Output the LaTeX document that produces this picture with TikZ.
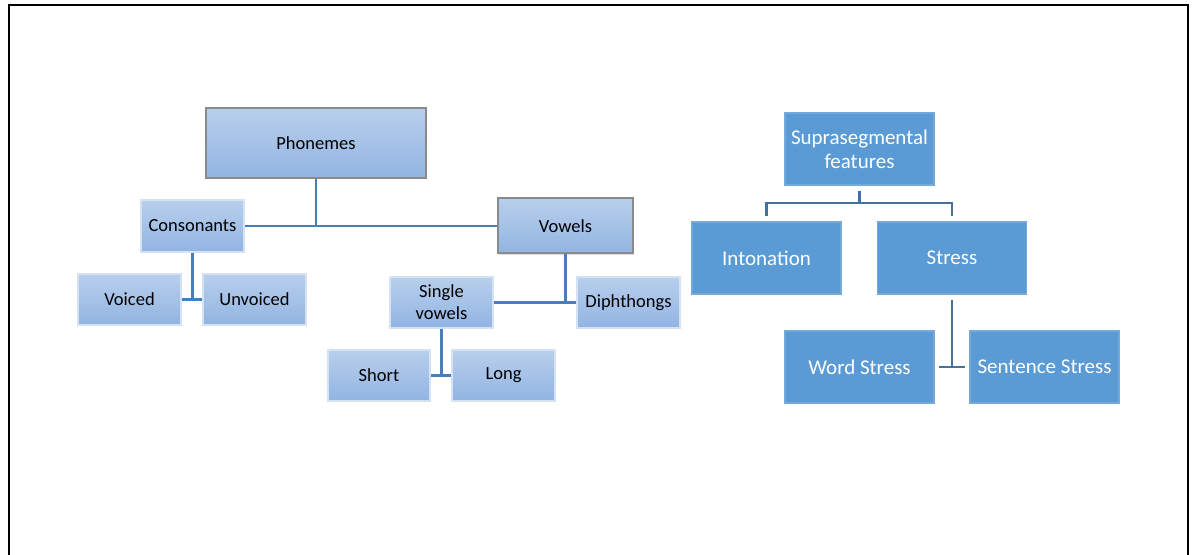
\documentclass[tikz,border=0pt]{standalone}
\usepackage{fontspec}
\setmainfont{Carlito}
\usetikzlibrary{shadows}

\definecolor{boxtop}{RGB}{184,207,236}
\definecolor{boxbot}{RGB}{146,180,226}
\definecolor{boxline}{RGB}{138,138,138}
\definecolor{linkblue}{RGB}{74,126,187}
\definecolor{supblue}{RGB}{91,155,213}
\definecolor{suplink}{RGB}{65,113,156}

\tikzset{
  phonbox/.style={rectangle, inner sep=0pt, top color=boxtop, bottom color=boxbot,
    draw=boxtop!60!white, line width=0.6pt, align=center, font=\fontsize{9.25}{11}\selectfont,
    drop shadow={shadow xshift=0.6pt, shadow yshift=-0.6pt, opacity=0.25}},
  headbox/.style={phonbox, draw=boxline, line width=1pt},
  supbox/.style={rectangle, inner sep=0pt, fill=supblue, draw=supblue!85!white, line width=0.6pt,
    text=white, align=center, minimum width=74.5pt, minimum height=36pt,
    font=\fontsize{10.5}{12}\selectfont},
  link/.style={draw=linkblue, line width=1.2pt},
  suplinkline/.style={draw=suplink, line width=1.4pt}
}

\begin{document}
\begin{tikzpicture}[x=0.5pt, y=-0.5pt]
    \useasboundingbox (0,0) rectangle (1194,555);
    \draw [line width=1pt] (8.5,555) -- (8.5,5.5) -- (1187.5,5.5) -- (1187.5,555);

    \node (phon) [headbox, minimum width=110pt, minimum height=35pt] at (316,143) {Phonemes};
    \node (cons) [phonbox, minimum width=51.5pt, minimum height=26pt] at (192.5,226) {Consonants};
    \node (vows) [headbox, minimum width=67.5pt, minimum height=27.5pt] at (565.5,226) {Vowels};
    \node (voic) [phonbox, minimum width=51.5pt, minimum height=25.5pt] at (129.5,299.5) {Voiced};
    \node (unvo) [phonbox, minimum width=51.5pt, minimum height=25.5pt] at (254.5,299.5) {Unvoiced};
    \node (sing) [phonbox, minimum width=51.5pt, minimum height=25.5pt] at (441.5,302.5) {Single\\vowels};
    \node (diph) [phonbox, minimum width=51.5pt, minimum height=25.5pt] at (628.5,302.5) {Diphthongs};
    \node (shor) [phonbox, minimum width=51pt, minimum height=25.5pt] at (379,375.5) {Short};
    \node (long) [phonbox, minimum width=51.5pt, minimum height=25.5pt] at (503.5,375.5) {Long};

    \draw [link] (cons.east) -- (vows.west);
    \draw [link] (phon.south) -- (phon.south |- cons.east);
    \draw [link] (voic.east) -- (unvo.west);
    \draw [link] (cons.south) -- (cons.south |- voic.east);
    \draw [link] (sing.east) -- (diph.west);
    \draw [link] (vows.south) -- (vows.south |- diph.west);
    \draw [link] (shor.east) -- (long.west);
    \draw [link] (sing.south) -- (sing.south |- long.west);

    \node (supr) [supbox] at (859.5,149) {Suprasegmental\\features};
    \node (into) [supbox] at (766.5,258) {Intonation};
    \node (stre) [supbox] at (952,258) {Stress};
    \node (word) [supbox] at (859.5,367) {Word Stress};
    \node (sent) [supbox] at (1044.5,367) {Sentence Stress};

    \coordinate (supbar) at (859.5,203);
    \draw [suplinkline] ([shift={(0,5)}]supr.south) -- (supbar);
    \draw [suplinkline] ([shift={(0,-5)}]into.north) |- (supbar) -| ([shift={(0,-5)}]stre.north);
    \draw [suplinkline] ([shift={(4,0)}]word.east) -- ([shift={(-4,0)}]sent.west);
    \draw [suplinkline] ([shift={(0,5)}]stre.south) -- (stre.south |- word.east);
\end{tikzpicture}
\end{document}
